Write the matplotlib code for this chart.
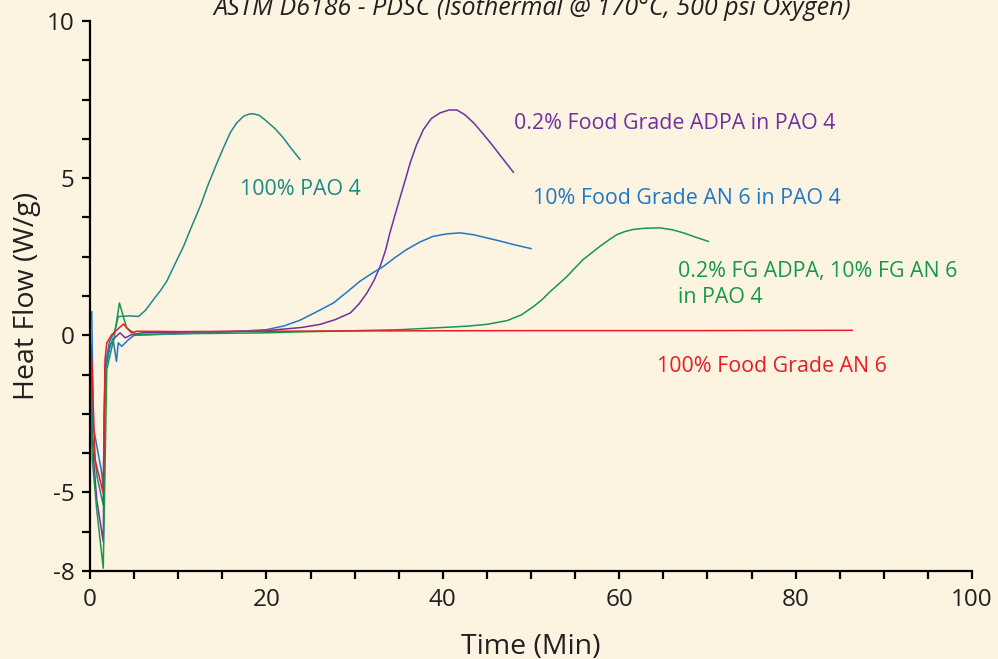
import numpy as np
import matplotlib
matplotlib.use("Agg")
from matplotlib import pyplot as plt
from matplotlib.ticker import MultipleLocator

plt.rcParams['font.family'] = ['Open Sans', 'DejaVu Sans']

# values (time in min, heat flow in W/g)
pao4_t = [0.0, 0.3, 0.8, 1.5, 1.7, 2.2, 2.8, 3.2, 3.4, 4.5, 5.5, 6.3, 7.2, 8.0, 8.7, 9.6, 10.6,
          11.5, 12.5, 13.4, 14.4, 15.1, 15.9, 16.6, 17.4, 18.0, 18.5, 19.2, 20.0, 21.0, 21.9,
          22.8, 23.8]
pao4_y = [0.5, -3.2, -4.5, -5.4, -1.0, -0.2, 0.13, 0.6, 0.6, 0.62, 0.6, 0.8, 1.14, 1.43, 1.72, 2.25, 2.83,
          3.45, 4.11, 4.8, 5.49, 5.95, 6.45, 6.75, 6.97, 7.04, 7.05, 7.0, 6.82, 6.57, 6.29,
          5.95, 5.6]

adpa_t = [0.0, 0.26, 0.76, 1.5, 1.7, 2.3, 2.8, 3.4, 4.0, 4.7, 6.0, 10.0, 15.0, 20.0, 24.0, 26.1,
          27.8, 29.5, 30.5, 31.4, 32.2, 32.9, 33.5, 34.0, 34.6, 35.2, 35.8, 36.3, 37.0, 37.8,
          38.7, 39.7, 40.7, 41.6, 42.5, 43.5, 44.6, 45.7, 46.8, 48.0]
adpa_y = [0.34, -3.43, -5.23, -6.56, -1.1, -0.3, -0.08, 0.08, -0.08, 0.02, 0.08, 0.1, 0.12, 0.15, 0.25, 0.35,
          0.5, 0.71, 1.0, 1.35, 1.75, 2.2, 2.7, 3.26, 3.85, 4.43, 5.0, 5.49, 6.05, 6.55,
          6.9, 7.08, 7.17, 7.17, 7.02, 6.76, 6.4, 6.02, 5.62, 5.19]

an6_pao_t = [0.0, 0.2, 0.37, 1.33, 1.5, 1.7, 2.2, 2.6, 3.0, 3.2, 3.6, 4.35, 5.0, 10.0, 15.0, 20.0,
             22.0, 23.8, 25.7, 27.6, 29.1, 30.6, 32.0, 33.3, 34.6, 35.9, 37.4, 38.9, 40.5, 42.0,
             43.5, 45.0, 46.5, 48.0, 50.0]
an6_pao_y = [0.6, 0.76, -2.9, -4.38, -4.9, -1.2, -0.4, -0.1, -0.83, -0.24, -0.35, -0.14, 0.0, 0.05, 0.1, 0.18,
             0.3, 0.48, 0.75, 1.03, 1.37, 1.72, 1.98, 2.2, 2.48, 2.73, 2.97, 3.15, 3.23, 3.26,
             3.2, 3.1, 3.0, 2.89, 2.76]

mix_t = [0.0, 0.26, 0.76, 1.5, 1.9, 2.76, 3.33, 4.16, 5.3, 10.0, 20.0, 23.8, 35.2, 42.7, 45.0,
         47.3, 48.9, 50.3, 51.3, 52.2, 53.2, 54.1, 55.0, 55.9, 56.9, 57.8, 58.8, 59.7, 60.6,
         61.6, 63.0, 64.6, 66.0, 67.3, 68.7, 70.1]
mix_y = [0.0, -3.96, -5.55, -7.41, -1.09, -0.03, 1.03, 0.23, 0.02, 0.05, 0.08, 0.11, 0.18, 0.29, 0.35,
         0.47, 0.65, 0.92, 1.15, 1.4, 1.65, 1.88, 2.15, 2.41, 2.63, 2.83, 3.03, 3.2, 3.3,
         3.37, 3.41, 3.42, 3.36, 3.26, 3.12, 2.99]

an6_t = [0.0, 0.2, 0.57, 1.5, 1.7, 1.9, 2.46, 3.78, 4.7, 5.3, 10.0, 30.0, 50.0, 70.0, 86.4]
an6_y = [-0.14, -0.77, -3.96, -5.02, -0.77, -0.24, 0.02, 0.36, 0.08, 0.13, 0.12, 0.14, 0.15, 0.15, 0.16]

y_ticks = [10, 5, 0, -5, -7.5]
y_tick_labels = ['10', '5', '0', '-5', '-8']
x_ticks = [0, 20, 40, 60, 80, 100]

bg = '#FDF3E1'
c_teal = '#1B8A85'
c_purple = '#7030A0'
c_blue = '#1F78C4'
c_green = '#15994A'
c_red = '#EC1C24'

fig = plt.figure(figsize=(9.98, 6.59), dpi=100, facecolor=bg)
ax = fig.add_axes([0.0902, 0.1335, 0.8838, 0.8345])
ax.set_facecolor(bg)

lw = 1.1
ax.plot(pao4_t, pao4_y, color=c_teal, lw=lw)
ax.plot(adpa_t, adpa_y, color=c_purple, lw=lw)
ax.plot(an6_pao_t, an6_pao_y, color=c_blue, lw=lw)
ax.plot(mix_t, mix_y, color=c_green, lw=lw)
ax.plot(an6_t, an6_y, color=c_red, lw=lw)

ax.set_xlim(0, 100)
ax.set_ylim(-7.5, 10)
ax.set_xticks(x_ticks)
ax.xaxis.set_minor_locator(MultipleLocator(5))
ax.set_yticks(y_ticks)
ax.set_yticklabels(y_tick_labels)
ax.yaxis.set_minor_locator(MultipleLocator(1.25))

for s in ['top', 'right']:
    ax.spines[s].set_visible(False)
for s in ['left', 'bottom']:
    ax.spines[s].set_linewidth(1.6)
    ax.spines[s].set_color('black')

ax.tick_params(which='both', direction='out', length=6, width=1.6, colors='black')
ax.tick_params(axis='both', labelsize=17.5, labelcolor='#231F20')
ax.tick_params(axis='x', pad=6)
ax.tick_params(axis='y', pad=5)

ax.set_xlabel('Time (Min)', fontsize=20.5, color='#231F20', labelpad=15)
ax.set_ylabel('Heat Flow (W/g)', fontsize=20.5, color='#231F20', labelpad=4)

fs = 15.4
ax.text(17.0, 4.64, '100% PAO 4', color=c_teal, fontsize=fs, va='center', ha='left')
ax.text(48.1, 6.74, '0.2% Food Grade ADPA in PAO 4', color=c_purple, fontsize=fs, va='center', ha='left')
ax.text(50.2, 4.35, '10% Food Grade AN 6 in PAO 4', color=c_blue, fontsize=fs, va='center', ha='left')
ax.text(66.7, 1.61, '0.2% FG ADPA, 10% FG AN 6\nin PAO 4', color=c_green, fontsize=fs,
        va='center', ha='left', linespacing=1.3)
ax.text(64.3, -1.0, '100% Food Grade AN 6', color=c_red, fontsize=fs, va='center', ha='left')

fig.text(0.533, 0.977, 'ASTM D6186 - PDSC (Isothermal @ 170°C, 500 psi Oxygen)',
         fontsize=18, style='italic', color='#231F20', ha='center', va='baseline')

fig.savefig('out.png', dpi=100, facecolor=bg)
